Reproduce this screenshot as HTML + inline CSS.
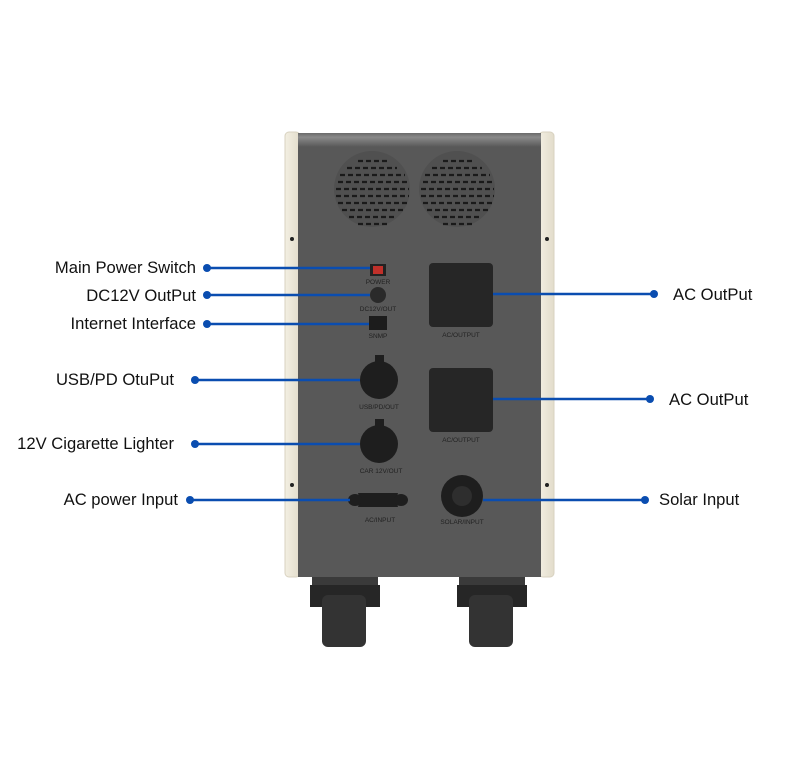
<!DOCTYPE html>
<html><head><meta charset="utf-8"><style>
html,body{margin:0;padding:0;background:#fff;}
svg{display:block;}
text{font-family:"Liberation Sans",sans-serif;}
</style></head><body>
<svg width="800" height="768" viewBox="0 0 800 768" xmlns="http://www.w3.org/2000/svg">
<defs>
<linearGradient id="cr" x1="0" x2="1"><stop offset="0" stop-color="#f3efe2"/><stop offset="1" stop-color="#e2dccb"/></linearGradient>
<linearGradient id="top" x1="0" y1="0" x2="0" y2="1"><stop offset="0" stop-color="#6a6a6a"/><stop offset="0.3" stop-color="#8a8a8a"/><stop offset="1" stop-color="#585858"/></linearGradient>
</defs>
<rect x="285" y="132" width="15" height="445" rx="4" fill="url(#cr)" stroke="#d8d2c0"/>
<rect x="539" y="132" width="15" height="445" rx="4" fill="url(#cr)" stroke="#d8d2c0"/>
<circle cx="292" cy="239" r="2" fill="#222"/><circle cx="547" cy="239" r="2" fill="#222"/>
<circle cx="292" cy="485" r="2" fill="#222"/><circle cx="547" cy="485" r="2" fill="#222"/>
<path d="M298 140 Q298 133 306 133 L533 133 Q541 133 541 140 L541 577 L298 577 Z" fill="#585858"/>
<rect x="298" y="133" width="243" height="14" fill="url(#top)"/>
<circle cx="372" cy="189" r="38" fill="#505050"/>
<circle cx="457" cy="189" r="38" fill="#505050"/>
<g stroke="#1a1a1a" stroke-width="2.2" stroke-dasharray="5 3">
<line x1="358" y1="161" x2="388" y2="161"/><line x1="347" y1="168" x2="397" y2="168"/>
<line x1="340" y1="175" x2="405" y2="175"/><line x1="338" y1="182" x2="407" y2="182"/>
<line x1="336" y1="189" x2="409" y2="189"/><line x1="336" y1="196" x2="409" y2="196"/>
<line x1="338" y1="203" x2="407" y2="203"/><line x1="342" y1="210" x2="403" y2="210"/>
<line x1="349" y1="217" x2="396" y2="217"/><line x1="358" y1="224" x2="388" y2="224"/>
<line x1="443" y1="161" x2="473" y2="161"/><line x1="432" y1="168" x2="482" y2="168"/>
<line x1="425" y1="175" x2="490" y2="175"/><line x1="423" y1="182" x2="492" y2="182"/>
<line x1="421" y1="189" x2="494" y2="189"/><line x1="421" y1="196" x2="494" y2="196"/>
<line x1="423" y1="203" x2="492" y2="203"/><line x1="427" y1="210" x2="488" y2="210"/>
<line x1="434" y1="217" x2="481" y2="217"/><line x1="443" y1="224" x2="473" y2="224"/>
</g>
<rect x="370" y="264" width="16" height="12" fill="#222"/><rect x="373" y="266" width="10" height="8" fill="#c0302a"/>
<circle cx="378" cy="295" r="8" fill="#2a2a2a"/>
<rect x="369" y="316" width="18" height="14" fill="#1c1c1c"/>
<rect x="429" y="263" width="64" height="64" rx="4" fill="#262626"/>
<rect x="429" y="368" width="64" height="64" rx="4" fill="#262626"/>
<circle cx="379" cy="380" r="19" fill="#1e1e1e"/><rect x="375" y="355" width="9" height="7" fill="#1e1e1e"/>
<circle cx="379" cy="444" r="19" fill="#1e1e1e"/><rect x="375" y="419" width="9" height="7" fill="#1e1e1e"/>
<path d="M360 500 L358 493 L398 493 L396 500 L398 507 L358 507 Z" fill="#1e1e1e"/>
<ellipse cx="355" cy="500" rx="7" ry="6" fill="#1e1e1e"/><ellipse cx="401" cy="500" rx="7" ry="6" fill="#1e1e1e"/>
<circle cx="462" cy="496" r="21" fill="#1e1e1e"/><circle cx="462" cy="496" r="10" fill="#2e2e2e"/>
<g font-size="6.5" fill="#222" text-anchor="middle">
<text x="378" y="284">POWER</text><text x="378" y="311">DC12V/OUT</text><text x="378" y="338">SNMP</text>
<text x="461" y="337">AC/OUTPUT</text><text x="461" y="442">AC/OUTPUT</text>
<text x="379" y="409">USB/PD/OUT</text><text x="381" y="473">CAR 12V/OUT</text>
<text x="380" y="522">AC/INPUT</text><text x="462" y="524">SOLAR/INPUT</text>
</g>
<g fill="#262626">
<rect x="312" y="577" width="66" height="14" fill="#3a3a3a"/>
<rect x="310" y="585" width="70" height="22"/>
<rect x="322" y="595" width="44" height="52" rx="6" fill="#333"/>
<rect x="459" y="577" width="66" height="14" fill="#3a3a3a"/>
<rect x="457" y="585" width="70" height="22"/>
<rect x="469" y="595" width="44" height="52" rx="6" fill="#333"/>
</g>
<g stroke="#0a4db0" stroke-width="2.4" fill="none">
<line x1="207" y1="268" x2="370" y2="268"/>
<line x1="207" y1="295" x2="370" y2="295"/>
<line x1="207" y1="324" x2="369" y2="324"/>
<line x1="195" y1="380" x2="360" y2="380"/>
<line x1="195" y1="444" x2="360" y2="444"/>
<line x1="190" y1="500" x2="350" y2="500"/>
<line x1="493" y1="294" x2="654" y2="294"/>
<line x1="493" y1="399" x2="650" y2="399"/>
<line x1="483" y1="500" x2="645" y2="500"/>
</g>
<g fill="#0a4db0">
<circle cx="207" cy="268" r="4"/><circle cx="207" cy="295" r="4"/><circle cx="207" cy="324" r="4"/>
<circle cx="195" cy="380" r="4"/><circle cx="195" cy="444" r="4"/><circle cx="190" cy="500" r="4"/>
<circle cx="654" cy="294" r="4"/><circle cx="650" cy="399" r="4"/><circle cx="645" cy="500" r="4"/>
</g>
<g font-size="16.6" fill="#111">
<text x="196" y="273" text-anchor="end">Main Power Switch</text>
<text x="196" y="301" text-anchor="end">DC12V OutPut</text>
<text x="196" y="329" text-anchor="end">Internet Interface</text>
<text x="174" y="385" text-anchor="end">USB/PD OtuPut</text>
<text x="174" y="449" text-anchor="end">12V Cigarette Lighter</text>
<text x="178" y="505" text-anchor="end">AC power Input</text>
<text x="673" y="300">AC OutPut</text>
<text x="669" y="405">AC OutPut</text>
<text x="659" y="505">Solar Input</text>
</g>
</svg>
</body></html>
